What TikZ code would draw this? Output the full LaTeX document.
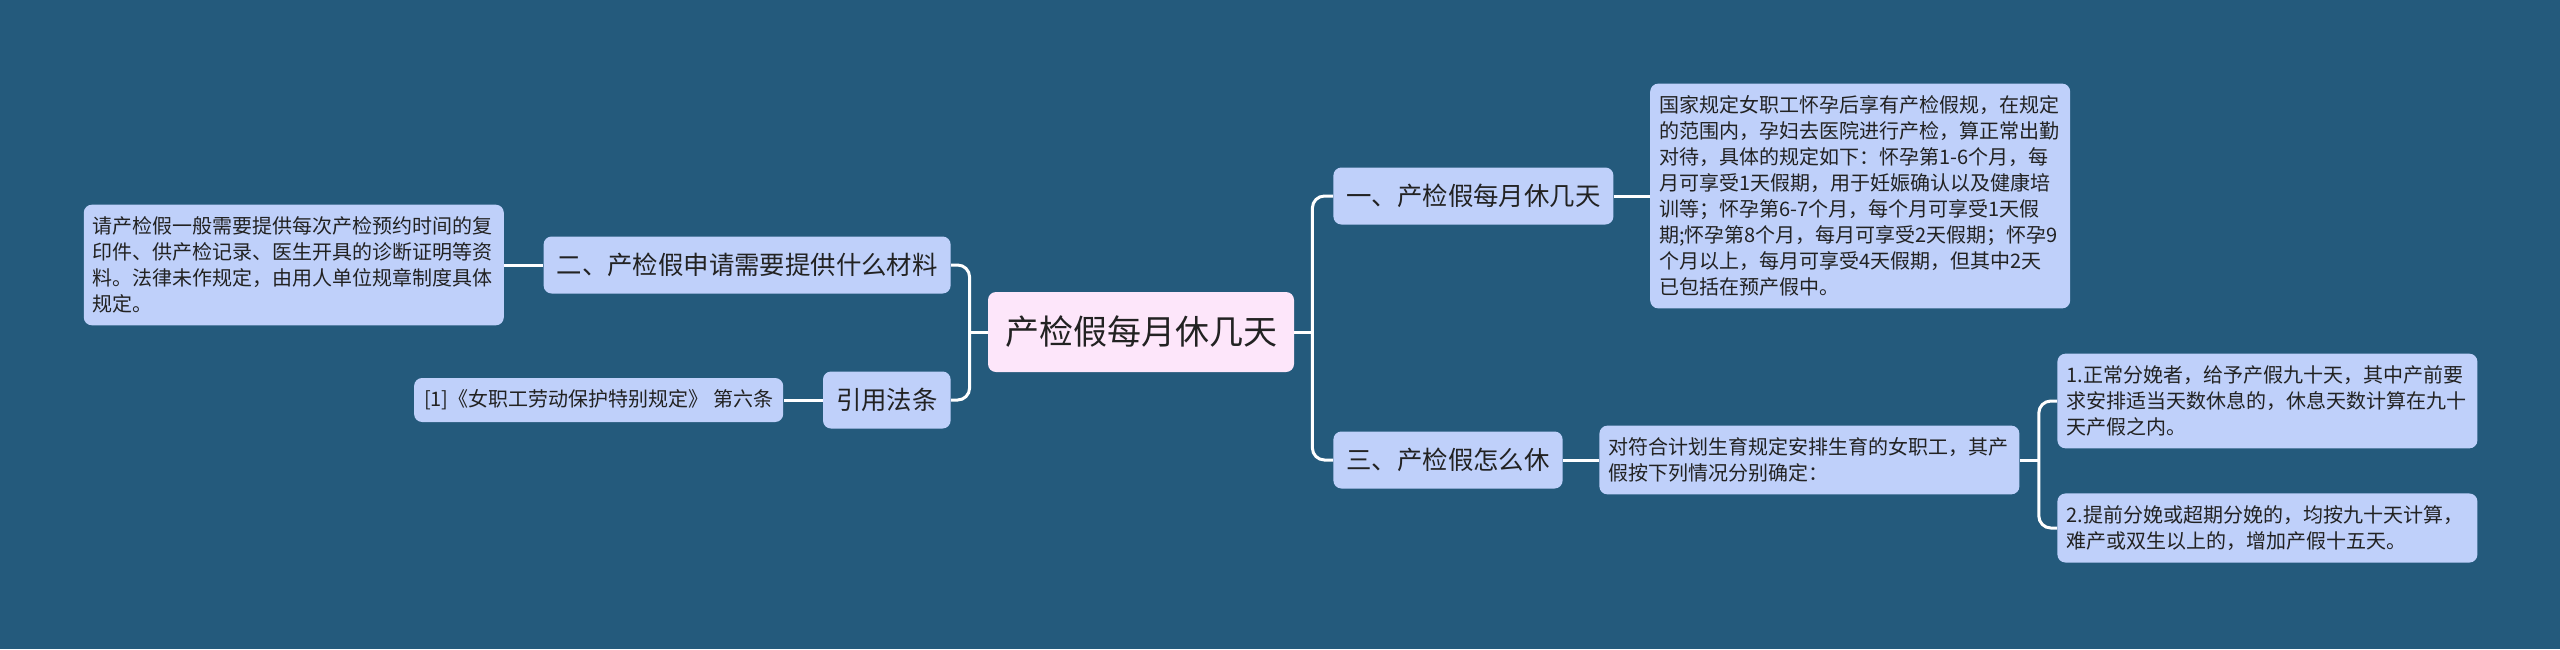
\documentclass[tikz,border=0pt]{standalone}
\usepackage{fontspec}
\newfontfamily\cjk{Noto Sans CJK SC}
\usepackage{xcolor}
\usepackage{tikz}
\usetikzlibrary{positioning}

\definecolor{bgblue}{HTML}{245A7C}
\definecolor{nodeblue}{HTML}{BFD0FA}
\definecolor{rootpink}{HTML}{FDE6FA}
\definecolor{inkgray}{HTML}{222222}

\begin{document}
\begin{tikzpicture}[
    x=0.5pt, y=-0.5pt,
    root/.style={rectangle, fill=rootpink, rounded corners=4pt, text=inkgray, font=\cjk\fontsize{17}{20}\selectfont, minimum height=40pt, inner xsep=8.5pt},
    branch/.style={rectangle, fill=nodeblue, rounded corners=4pt, text=inkgray, font=\cjk\fontsize{12.7}{15}\selectfont, minimum height=28.5pt, inner xsep=6.5pt},
    leaf/.style={rectangle, fill=nodeblue, rounded corners=4pt, text=inkgray, font=\cjk\fontsize{10}{13}\selectfont, text width=201pt, align=left, inner xsep=4.5pt, inner ysep=6pt},
    refbox/.style={rectangle, fill=nodeblue, rounded corners=4pt, text=inkgray, font=\cjk\fontsize{10}{13}\selectfont, minimum height=22pt, inner xsep=5pt},
    link/.style={draw=white, line width=1.5pt, rounded corners=6pt}
]
    % Background
    \fill[bgblue] (0,0) rectangle (2560,649);
    \useasboundingbox (0,0) rectangle (2560,649);

    % Root
    \node[root] (root) at (1141,332) {产检假每月休几天};

    % Right side
    \node[branch, anchor=west] (one) at (1333,196) {一、产检假每月休几天};
    \node[leaf, right=18pt of one] (rules) {国家规定女职工怀孕后享有产检假规，在规定\\的范围内，孕妇去医院进行产检，算正常出勤\\对待，具体的规定如下：怀孕第1-6个月，每\\月可享受1天假期，用于妊娠确认以及健康培\\训等；怀孕第6-7个月，每个月可享受1天假\\期;怀孕第8个月，每月可享受2天假期；怀孕9\\个月以上，每月可享受4天假期，但其中2天\\已包括在预产假中。};

    \node[branch, anchor=west] (three) at (1333,460) {三、产检假怎么休};
    \node[leaf, right=18pt of three] (plan) {对符合计划生育规定安排生育的女职工，其产\\假按下列情况分别确定：};
    \node[leaf, anchor=west] (normal) at (2057,401) {1.正常分娩者，给予产假九十天，其中产前要\\求安排适当天数休息的，休息天数计算在九十\\天产假之内。};
    \node[leaf, anchor=west] (early) at (2057,528) {2.提前分娩或超期分娩的，均按九十天计算，\\难产或双生以上的，增加产假十五天。};

    % Left side
    \node[branch, anchor=east] (two) at (951,265) {二、产检假申请需要提供什么材料};
    \node[leaf, left=19.5pt of two] (docs) {请产检假一般需要提供每次产检预约时间的复\\印件、供产检记录、医生开具的诊断证明等资\\料。法律未作规定，由用人单位规章制度具体\\规定。};

    \node[branch, anchor=east] (cite) at (951,400) {引用法条};
    \node[refbox, left=19.5pt of cite] (law) {[1]《女职工劳动保护特别规定》 第六条};

    % Forks
    \coordinate (rfork) at ([xshift=9pt]root.east);
    \coordinate (lfork) at ([xshift=-9pt]root.west);
    \coordinate (pfork) at ([xshift=9.5pt]plan.east);

    % Links
    \draw[link] (root.east) -- (rfork);
    \draw[link] (one.west) -| (rfork) |- (three.west);
    \draw[link] (root.west) -- (lfork);
    \draw[link] (two.east) -| (lfork) |- (cite.east);
    \draw[link] (one) -- (rules);
    \draw[link] (three) -- (plan);
    \draw[link] (two) -- (docs);
    \draw[link] (cite) -- (law);
    \draw[link] (plan.east) -- (pfork);
    \draw[link] (normal.west) -| (pfork) |- (early.west);

\end{tikzpicture}
\end{document}
